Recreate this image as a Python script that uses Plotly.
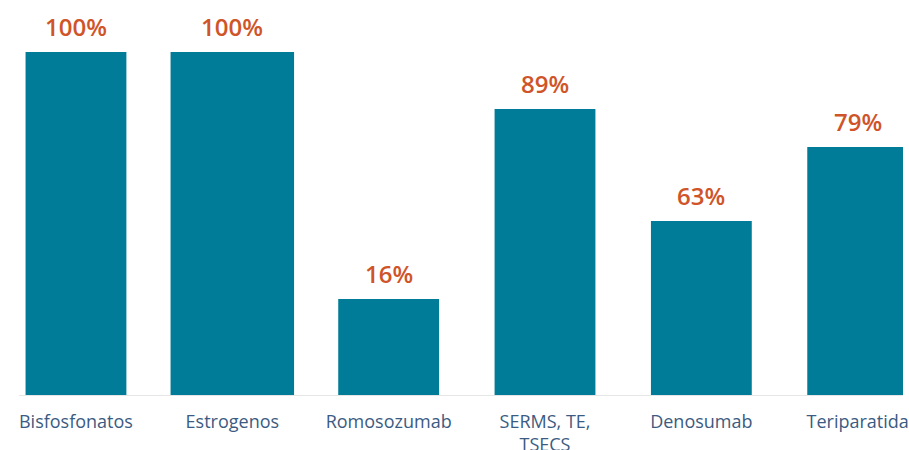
import plotly.graph_objects as go

categories = ["Bisfosfonatos", "Estrogenos", "Romosozumab", "SERMS, TE,<br>TSECS", "Denosumab", "Teriparatida"]
bar_values = [100, 100, 28, 83.4, 50.7, 72.3]
labels = ["100%", "100%", "16%", "89%", "63%", "79%"]

bar_widths = [0.645, 0.79, 0.645, 0.645, 0.645, 0.645]

fig = go.Figure()
fig.add_trace(go.Bar(
    x=categories, y=bar_values, width=bar_widths,
    marker=dict(color="#007C98", line=dict(width=0)),
    hoverinfo="skip",
))

for c, v, t in zip(categories, bar_values, labels):
    fig.add_annotation(
        x=c, y=v, text=t, showarrow=False,
        yanchor="bottom", yshift=7,
        font=dict(family="Open Sans", size=24, weight=600, color="#CF5428"),
    )

fig.update_layout(
    width=909, height=450,
    margin=dict(l=19, r=6, t=0, b=55, autoexpand=False),
    paper_bgcolor="white", plot_bgcolor="white",
    showlegend=False,
    xaxis=dict(
        type="category", range=[-0.3644, 5.2898], automargin=False,
        showline=True, linecolor="#E6E6E6", linewidth=1,
        showgrid=False, zeroline=False, ticks="",
        ticklabelstandoff=10,
        tickfont=dict(family="Open Sans", size=18, color="#3B5B82"),
    ),
    yaxis=dict(range=[0, 115.16], visible=False, showgrid=False, zeroline=False, automargin=False),
)

fig.write_html(
    "out.html",
    config={"displayModeBar": False},
    post_script="document.body.style.margin='0';document.body.style.overflow='hidden';",
)
